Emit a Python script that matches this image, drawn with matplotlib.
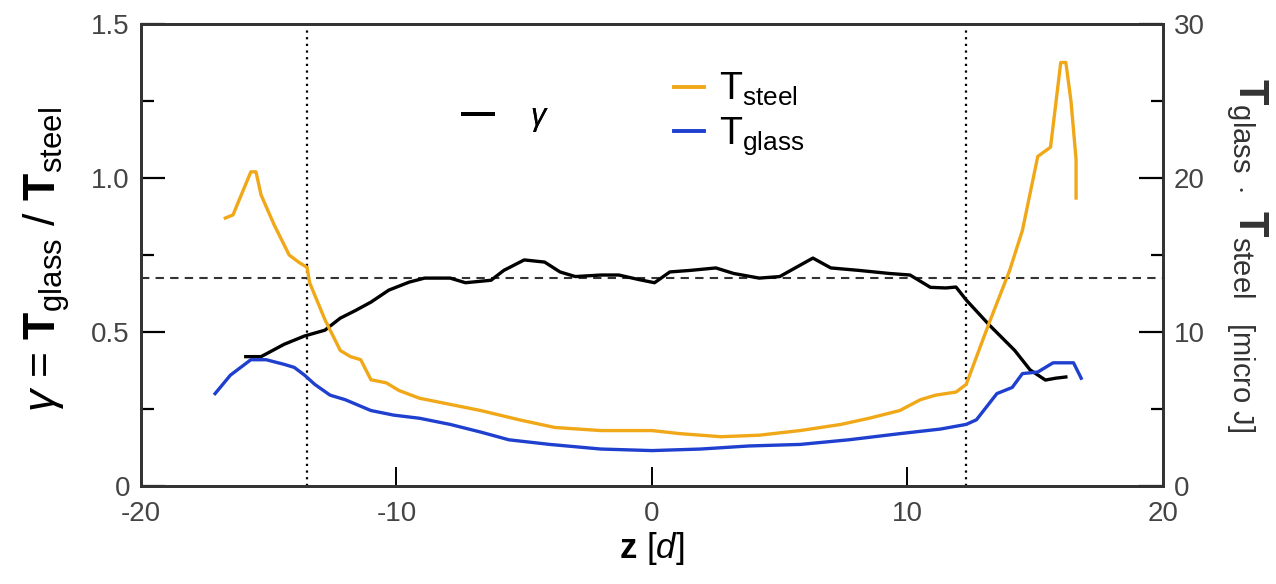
import matplotlib.pyplot as plt
from matplotlib.ticker import MultipleLocator
from matplotlib.lines import Line2D

plt.rcParams['font.family'] = ['Liberation Sans', 'DejaVu Sans']
plt.rcParams['mathtext.fontset'] = 'custom'
plt.rcParams['mathtext.rm'] = 'Liberation Sans'
plt.rcParams['mathtext.it'] = 'Liberation Sans:italic'
plt.rcParams['mathtext.bf'] = 'Liberation Sans:bold'

# ---- data ----
# gamma = T_glass / T_steel (left axis)
z_gamma = [-15.9, -15.3, -14.4, -13.6, -12.8, -12.2, -11.6, -11.0, -10.3, -9.5,
           -8.9, -7.9, -7.3, -6.3, -5.8, -5.0, -4.2, -3.6, -3.0, -2.0,
           -1.3, -0.5, 0.1, 0.7, 1.5, 2.5, 3.2, 4.2, 5.0, 5.8,
           6.3, 7.0, 8.1, 9.3, 10.1, 10.9, 11.5, 11.9, 12.3, 13.2,
           14.2, 14.8, 15.4, 15.8, 16.2]
gamma = [0.42, 0.42, 0.46, 0.487, 0.506, 0.545, 0.57, 0.597, 0.636, 0.662,
         0.675, 0.675, 0.66, 0.668, 0.70, 0.734, 0.727, 0.695, 0.68, 0.685,
         0.685, 0.67, 0.66, 0.695, 0.70, 0.708, 0.69, 0.675, 0.68, 0.717,
         0.74, 0.708, 0.70, 0.69, 0.685, 0.645, 0.643, 0.646, 0.604, 0.523,
         0.44, 0.377, 0.344, 0.35, 0.354]

# T_steel [micro J] (right axis)
z_steel = [-16.7, -16.4, -16.0, -15.7, -15.5, -15.3, -14.8, -14.2, -13.8, -13.5,
           -13.4, -12.8, -12.2, -11.8, -11.4, -11.0, -10.4, -9.9, -9.1, -7.9,
           -6.7, -5.2, -3.8, -2.0, 0.0, 1.1, 2.7, 4.2, 5.8, 7.4,
           8.5, 9.7, 10.5, 11.1, 11.9, 12.3, 13.2, 14.0, 14.5, 15.1,
           15.6, 16.0, 16.2, 16.4, 16.6, 16.6]
T_steel = [17.4, 17.6, 19.2, 20.4, 20.4, 18.9, 17.0, 15.0, 14.5, 14.2,
           13.2, 10.8, 8.8, 8.4, 8.2, 6.9, 6.7, 6.2, 5.7, 5.3,
           4.9, 4.3, 3.8, 3.6, 3.6, 3.4, 3.2, 3.3, 3.6, 4.0,
           4.4, 4.9, 5.6, 5.9, 6.1, 6.6, 10.6, 14.0, 16.6, 21.4,
           22.0, 27.5, 27.5, 25.0, 21.2, 18.7]

# T_glass [micro J] (right axis)
z_glass = [-17.1, -16.5, -15.7, -15.1, -14.4, -14.0, -13.6, -13.2, -12.6, -12.0,
           -11.0, -10.1, -9.1, -7.9, -6.7, -5.6, -4.0, -2.0, 0.0, 1.9,
           3.8, 5.8, 7.7, 9.7, 11.3, 12.3, 12.7, 13.5, 14.1, 14.5,
           15.1, 15.7, 16.5, 16.8]
T_glass = [6.0, 7.2, 8.2, 8.2, 7.9, 7.7, 7.2, 6.6, 5.9, 5.6,
           4.9, 4.6, 4.4, 4.0, 3.5, 3.0, 2.7, 2.4, 2.3, 2.4,
           2.6, 2.7, 3.0, 3.4, 3.7, 4.0, 4.3, 6.0, 6.4, 7.3,
           7.4, 8.0, 8.0, 7.0]

z_walls = [-13.5, 12.3]
gamma_ref = 0.675

c_steel = '#f0a818'
c_glass = '#1f3fcf'
tick_col = '#444444'

# ---- figure ----
fig = plt.figure(figsize=(12.76, 5.84), dpi=100)
ax = fig.add_axes([0.1105, 0.1678, 0.8009, 0.7911])
ax2 = ax.twinx()

ax.plot(z_gamma, gamma, color='black', lw=2.4, zorder=3)
ax2.plot(z_steel, T_steel, color=c_steel, lw=2.4)
ax2.plot(z_glass, T_glass, color=c_glass, lw=2.4)

for zw in z_walls:
    ax.axvline(zw, color='black', ls=(0, (1, 2)), lw=1.6)
ax.axhline(gamma_ref, color='#333333', ls=(0, (4, 3)), lw=1.5)

ax.set_xlim(-20, 20)
ax.set_ylim(0, 1.5)
ax2.set_ylim(0, 30)

ax.set_xticks([-20, -10, 0, 10, 20])
ax.set_xticklabels(['-20', '-10', '0', '10', '20'])
ax.set_yticks([0, 0.5, 1.0, 1.5])
ax.set_yticklabels(['0', '0.5', '1.0', '1.5'])
ax.yaxis.set_minor_locator(MultipleLocator(0.25))
ax2.set_yticks([0, 10, 20, 30])
ax2.yaxis.set_minor_locator(MultipleLocator(5))

ax.tick_params(axis='x', direction='in', length=14, width=1.4, top=False,
               labelsize=20, labelcolor=tick_col, pad=11)
ax.tick_params(axis='y', which='major', direction='in', length=17, width=1.6,
               right=False, labelsize=20, labelcolor=tick_col, pad=8)
ax.tick_params(axis='y', which='minor', direction='in', length=9, width=1.6, right=False)
ax2.tick_params(axis='y', which='major', direction='in', length=17, width=1.6,
                labelsize=20, labelcolor=tick_col, pad=8)
ax2.tick_params(axis='y', which='minor', direction='in', length=9, width=1.6)

for a in (ax, ax2):
    for s in a.spines.values():
        s.set_linewidth(2.0)
        s.set_color('#333333')

ax.set_xlabel(r'$\mathbf{z}$ [$\mathit{d}$]', fontsize=25, labelpad=2)
ax.set_ylabel(r'$\gamma$ = $\mathbf{T}_{\mathrm{glass}}$ / $\mathbf{T}_{\mathrm{steel}}$',
              fontsize=32)
ax.yaxis.set_label_coords(-0.068, 0.49)
ax2.set_ylabel(r'$\mathbf{T}_{\mathrm{glass}\ \cdot}\ \mathbf{T}_{\mathrm{steel}}\ \ {}_{\mathrm{[micro\ J]}}$',
               fontsize=30, rotation=270, color='#333333')
ax2.yaxis.set_label_coords(1.104, 0.50)

# legends
leg1 = ax.legend([Line2D([], [], color='black', lw=2.8)], [r'$\gamma$'],
                 loc='center', bbox_to_anchor=(0.357, 0.797), frameon=False,
                 fontsize=22, handlelength=1.0, handletextpad=1.2)
ax.add_artist(leg1)
ax2.legend([Line2D([], [], color=c_steel, lw=2.8), Line2D([], [], color=c_glass, lw=2.8)],
           [r'T$_{\mathrm{steel}}$', r'T$_{\mathrm{glass}}$'],
           loc='center', bbox_to_anchor=(0.585, 0.805), frameon=False,
           fontsize=27, handlelength=0.8, handletextpad=0.4, labelspacing=0.2)

fig.savefig('out.png', dpi=100)
